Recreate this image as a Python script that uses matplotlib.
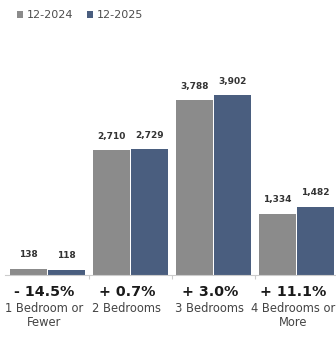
import matplotlib.pyplot as plt

# данные
categories = ["1 Bedroom or\nFewer", "2 Bedrooms", "3 Bedrooms", "4 Bedrooms or\nMore"]
vals_2024 = [138, 2710, 3788, 1334]
vals_2025 = [118, 2729, 3902, 1482]
changes = ["- 14.5%", "+ 0.7%", "+ 3.0%", "+ 11.1%"]
series_names = ["12-2024", "12-2025"]

gray = "#8b8b8b"
blue = "#4a5e7f"

fig = plt.figure(figsize=(3.36, 3.37), dpi=100)
ax = fig.add_axes([0, 62 / 337, 1, 235 / 337])

x = list(range(len(categories)))
w = 0.45
b1 = ax.bar([i - 0.235 for i in x], vals_2024, width=w, color=gray, label=series_names[0])
b2 = ax.bar([i + 0.225 for i in x], vals_2025, width=w, color=blue, label=series_names[1])

ax.set_xlim(-0.578, 3.47)
ax.set_ylim(0, 5098)

# подписи значений над столбиками
for bars, vals in ((b1, vals_2024), (b2, vals_2025)):
    for r, v in zip(bars, vals):
        ax.annotate(f"{v:,}", (r.get_x() + r.get_width() / 2, v),
                    xytext=(0, 10), textcoords="offset points",
                    ha="center", va="center", fontsize=6.5,
                    fontweight="bold", color="#333333")

# проценты и названия категорий под осью
for i in x:
    ax.annotate(changes[i], (i - 0.05, 0), xytext=(0, -12.3), textcoords="offset points",
                ha="center", va="center", fontsize=10.3, fontweight="bold", color="#1a1a1a")
    ax.annotate(categories[i], (i - 0.05, 0), xytext=(0, -19.2), textcoords="offset points",
                ha="center", va="top", fontsize=8.3, color="#444444", linespacing=1.15)

for s in ("top", "right", "left"):
    ax.spines[s].set_visible(False)
ax.spines["bottom"].set_color("#cccccc")
ax.spines["bottom"].set_bounds(-0.52, 3.47)
ax.set_yticks([])
ax.set_xticks([0.5, 1.5, 2.5])
ax.set_xticklabels([])
ax.tick_params(axis="x", length=3, color="#cccccc")

ax.legend(loc="upper left", bbox_to_anchor=(0.02, 1.0), bbox_transform=fig.transFigure,
          ncol=2, frameon=False, fontsize=8, handlelength=0.6, handleheight=0.6,
          handletextpad=0.3, columnspacing=1.2, labelcolor="#4d4d4d")

fig.savefig("out.png", dpi=100)
